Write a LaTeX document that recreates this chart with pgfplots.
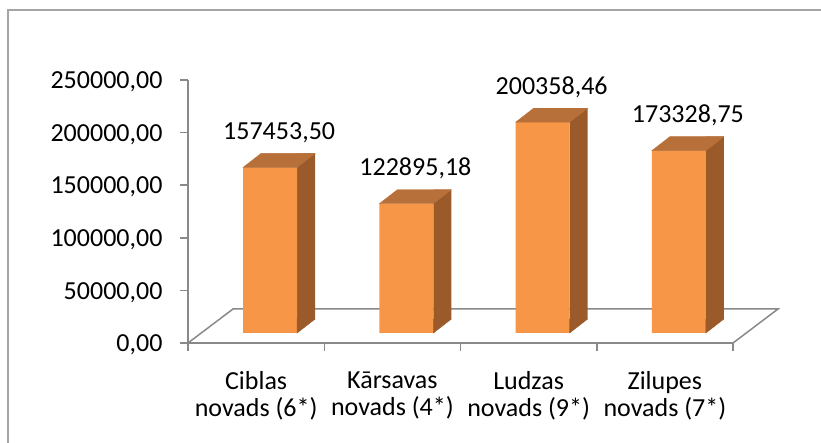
\documentclass[border=0pt]{standalone}
\usepackage{pgfplots}
\pgfplotsset{compat=1.18}
\usepackage{pgfplotstable}
\usepackage{fontspec}
\setmainfont{Carlito}
\definecolor{barfront}{HTML}{F79646}
\definecolor{bartop}{HTML}{B8703A}
\definecolor{barside}{HTML}{9A5A2A}
\definecolor{axgray}{HTML}{898989}
\definecolor{framegray}{HTML}{A5A5A5}

\pgfplotstableread{
x v lab
1 157453.50 157453,50
2 122895.18 122895,18
3 200358.46 200358,46
4 173328.75 173328,75
}\datatab

% top face of a bar, relative to (category centre, value)
\pgfdeclareplotmark{topface}{%
  \fill[bartop] (-13pt,10pt) -- (41pt,10pt) -- (59pt,24pt) -- (5pt,24pt) -- cycle;
}
% lower corner of the side face, relative to (category centre, 0)
\pgfdeclareplotmark{sidebase}{%
  \fill[barside] (41pt,10pt) -- (59pt,24pt) -- (41pt,24pt) -- cycle;
}

\begin{document}
\begin{tikzpicture}[x=1pt,y=1pt]
\useasboundingbox (0,0) rectangle (821,443);
\draw[framegray, line width=2pt] (7.5,-30) rectangle (850,432.5);
\begin{axis}[
  at={(188pt,100pt)}, anchor=south west,
  scale only axis, width=545pt, height=263pt,
  xmin=0.5, xmax=4.5, ymin=0, ymax=250000,
  clip=false,
  axis lines*=left,
  axis line style={axgray, line width=1.5pt},
  tick align=outside,
  major tick length=8pt, minor tick length=8pt,
  ytick={0,50000,100000,150000,200000,250000},
  scaled y ticks=false,
  y tick style={axgray, line width=1.5pt},
  xtick={1,2,3,4},
  xticklabels={{Ciblas\\novads (6*)},{Kārsavas\\novads (4*)},{Ludzas\\novads (9*)},{Zilupes\\novads (7*)}},
  major x tick style={draw=none},
  minor xtick={0.5,1.5,2.5,3.5,4.5},
  minor x tick style={axgray, line width=1.5pt},
  tick label style={font=\fontsize{26}{27}\selectfont, text=black},
  xticklabel style={align=center, yshift=-17pt},
  yticklabel style={xshift=-14pt, yshift=-2pt,
    /pgf/number format/fixed,
    /pgf/number format/fixed zerofill,
    /pgf/number format/precision=2,
    /pgf/number format/use comma,
    /pgf/number format/1000 sep={},
    /pgf/number format/assume math mode=true},
]
% floor outline
\addplot[axgray, line width=1.5pt, no marks] coordinates {(0.5,0) (0.8303,32319) (4.8303,32319) (4.5,0)};
% side faces
\addplot[ybar, bar width=18pt, bar shift=50pt, yshift=24pt, fill=barside, draw=none] table[x=x, y=v] {\datatab};
\addplot[only marks, mark=sidebase] table[x=x, y expr=0] {\datatab};
% front faces with value labels
\addplot[ybar, bar width=54pt, bar shift=14pt, yshift=10pt, fill=barfront, draw=none,
  point meta=explicit symbolic,
  nodes near coords,
  nodes near coords style={anchor=base, yshift=28pt, xshift=23pt, font=\fontsize{26}{27}\selectfont, text=black}]
  table[x=x, y=v, meta=lab] {\datatab};
% top faces
\addplot[only marks, mark=topface] table[x=x, y=v] {\datatab};
\end{axis}
\end{tikzpicture}
\end{document}
